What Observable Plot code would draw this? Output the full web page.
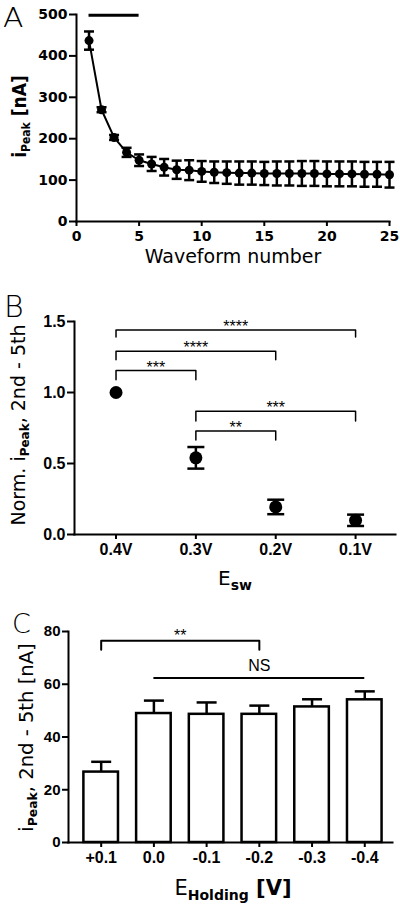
<!DOCTYPE html>
<html><head><meta charset="utf-8">
<script src="https://cdn.jsdelivr.net/npm/d3@7"></script>
<script src="https://cdn.jsdelivr.net/npm/@observablehq/plot@0.6"></script>
<style>
html,body{margin:0;padding:0;background:#fff;}
#wrap{position:relative;width:400px;height:907px;overflow:hidden;background:#fff;}
#wrap > svg{position:absolute;left:0;}
</style></head><body><div id="wrap"></div>
<script>
// ---------- Panel A ----------
const waveformNumber = [1,2,3,4,5,6,7,8,9,10,11,12,13,14,15,16,17,18,19,20,21,22,23,24,25];
const peakCurrent = [437,270,203,167,148,139,131,125,124,121,119,118,117,117,116,116,116,116,116,115,115,115,114,114,113];
const peakError   = [22,6,6,11,14,17,20,22,24,25,26,27,28,28,28,29,29,30,30,30,30,30,30,30,31];
const stimBarStart = 1, stimBarEnd = 5, stimBarLevel = 498;
const ticksAx = [0,5,10,15,20,25];
const ticksAy = [0,100,200,300,400,500];
const titleAx = "Waveform number";

// ---------- Panel B ----------
const eswLabels = ["0.4V","0.3V","0.2V","0.1V"];
const normPeak  = [1.0,0.54,0.194,0.10];
const normError = [0,0.076,0.051,0.04];
const bracketFrom  = ["0.4V","0.4V","0.4V","0.3V","0.3V"];
const bracketTo    = ["0.1V","0.2V","0.3V","0.1V","0.2V"];
const bracketTop   = [1.44,1.29,1.155,0.868,0.728];
const bracketFoot  = [1.39,1.23,1.09,0.80,0.665];
const bracketStars = ["****","****","***","***","**"];
const ticksBy = [0,0.5,1.0,1.5];

// ---------- Panel C ----------
const holdingLabels  = ["+0.1","0.0","-0.1","-0.2","-0.3","-0.4"];
const holdingCurrent = [26.7,48.9,48.6,48.6,51.4,54.1];
const holdingError   = [3.9,4.9,4.5,3.3,2.9,3.2];
const sigFrom = "+0.1", sigTo = "-0.2", sigTop = 76.5, sigFoot = 73.1, sigLabel = "**";
const nsFrom = "0.0", nsTo = "-0.4", nsLevel = 62.4, nsLabel = "NS";
const ticksCy = [0,20,40,60,80];

const capSymbol = {draw(ctx, size){ const r = Math.sqrt(size/Math.PI); ctx.moveTo(-r,0); ctx.lineTo(r,0); }};
const wrap = document.getElementById("wrap");

function addText(svg, o){
  const t = d3.select(svg).append("text")
    .attr("transform", `translate(${o.x},${o.y}) rotate(${o.rotate||0}) scale(${o.sx||1},1)`)
    .attr("text-anchor", o.anchor||"middle")
    .attr("font-family", o.family||"DejaVu Sans")
    .attr("font-size", o.size)
    .attr("font-weight", o.weight||"normal")
    .attr("fill","black");
  let cur = 0;
  for (const p of o.parts){
    const ts = t.append("tspan").text(p.text);
    const sh = p.shift||0;
    ts.attr("dy", sh - cur); cur = sh;
    if (p.size) ts.attr("font-size", p.size);
    if (p.weight) ts.attr("font-weight", p.weight);
  }
}

const fontA = {fontFamily:"DejaVu Sans", fontWeight:"bold", fontSize:14};
const fontBC = {fontFamily:"Liberation Sans", fontWeight:"bold", fontSize:16};

// ---------- Plot A ----------
const dataA = waveformNumber.map((x,i)=>({x, y:peakCurrent[i], lo:peakCurrent[i]-peakError[i], hi:peakCurrent[i]+peakError[i]}));
const capsA = dataA.flatMap(d=>[{x:d.x,y:d.lo},{x:d.x,y:d.hi}]);
const svgA = Plot.plot({
  width:400, height:290, marginTop:14, marginBottom:69, marginLeft:76, marginRight:11,
  style:"font-family:'DejaVu Sans';font-size:14px;font-weight:bold;color:#000;background:#fff;overflow:visible",
  x:{domain:[0,25]},
  y:{domain:[0,500]},
  marks:[
    Plot.axisX({ticks:ticksAx, tickSize:5, tickPadding:5, strokeWidth:2, label:null, ...fontA}),
    Plot.axisY({ticks:ticksAy, tickSize:7, tickPadding:2, strokeWidth:2, label:null, ...fontA}),
    Plot.frame({anchor:"left", strokeWidth:2}),
    Plot.frame({anchor:"bottom", strokeWidth:2}),
    Plot.ruleX(dataA,{x:"x", y1:"lo", y2:"hi", strokeWidth:2.5}),
    Plot.dot(capsA,{x:"x", y:"y", r:5, symbol:capSymbol, stroke:"black", fill:"none", strokeWidth:2.5}),
    Plot.line(dataA,{x:"x", y:"y", strokeWidth:2}),
    Plot.dot(dataA,{x:"x", y:"y", r:4.5, fill:"black"}),
    Plot.ruleY([stimBarLevel],{x1:stimBarStart, x2:stimBarEnd, strokeWidth:3})
  ]
});
svgA.style.top = "0px";
wrap.appendChild(svgA);
addText(svgA,{x:3, y:27, anchor:"start", size:26, weight:200, sx:1.15, parts:[{text:"A"}]});
addText(svgA,{x:26, y:116.5, rotate:-90, size:19, weight:"bold", sx:0.9, parts:[{text:"i"},{text:"Peak", size:12, shift:4},{text:" [nA]", shift:0}]});
addText(svgA,{x:233, y:263, size:19, parts:[{text:titleAx}]});

// ---------- Plot B ----------
const idxB = l => eswLabels.indexOf(l);
const dataB = eswLabels.map((l,i)=>({x:i, y:normPeak[i], lo:normPeak[i]-normError[i], hi:normPeak[i]+normError[i], e:normError[i]}));
const errB = dataB.filter(d=>d.e>0);
const capsB = errB.flatMap(d=>[{x:d.x,y:d.lo},{x:d.x,y:d.hi}]);
const bracketsB = bracketFrom.flatMap((f,i)=>[
  {k:i, x:idxB(f), y:bracketFoot[i]},
  {k:i, x:idxB(f), y:bracketTop[i]},
  {k:i, x:idxB(bracketTo[i]), y:bracketTop[i]},
  {k:i, x:idxB(bracketTo[i]), y:bracketFoot[i]}
]);
const starsB = bracketFrom.map((f,i)=>({x:(idxB(f)+idxB(bracketTo[i]))/2, y:bracketTop[i], t:bracketStars[i]}));
const svgB = Plot.plot({
  width:400, height:310, marginTop:31, marginBottom:66, marginLeft:74, marginRight:5,
  style:"font-family:'Liberation Sans';font-size:16px;font-weight:bold;color:#000;background:#fff;overflow:visible",
  x:{domain:[-0.52,3.5]},
  y:{domain:[0,1.5]},
  marks:[
    Plot.axisX({ticks:[0,1,2,3], tickFormat:i=>eswLabels[i], tickSize:5, tickPadding:4, strokeWidth:2, label:null, ...fontBC}),
    Plot.axisY({ticks:ticksBy, tickFormat:d3.format(".1f"), tickSize:7, tickPadding:2, strokeWidth:2, label:null, ...fontBC}),
    Plot.frame({anchor:"left", strokeWidth:2}),
    Plot.frame({anchor:"bottom", strokeWidth:2}),
    Plot.line(bracketsB,{x:"x", y:"y", z:"k", strokeWidth:1.5}),
    Plot.text(starsB,{x:"x", y:"y", text:"t", fontFamily:"Liberation Sans", fontWeight:"normal", fontSize:16, lineAnchor:"middle", dy:-3}),
    Plot.ruleX(errB,{x:"x", y1:"lo", y2:"hi", strokeWidth:2.5}),
    Plot.dot(capsB,{x:"x", y:"y", r:8.5, symbol:capSymbol, stroke:"black", fill:"none", strokeWidth:2.5}),
    Plot.dot(dataB,{x:"x", y:"y", r:6.5, fill:"black"})
  ]
});
svgB.style.top = "290px";
wrap.appendChild(svgB);
addText(svgB,{x:4, y:27, anchor:"start", size:30, weight:200, parts:[{text:"B"}]});
addText(svgB,{x:25, y:135, rotate:-90, sx:1.0, size:19, parts:[{text:"Norm. i"},{text:"Peak", size:12, weight:"bold", shift:4},{text:", 2nd - 5th", shift:0}]});
addText(svgB,{x:235, y:295, size:20, parts:[{text:"E"},{text:"sw", size:14, weight:"bold", shift:5}]});

// ---------- Plot C ----------
const idxC = l => holdingLabels.indexOf(l);
const halfBar = 0.328;
const dataC = holdingLabels.map((l,i)=>({x:i, y:holdingCurrent[i], hi:holdingCurrent[i]+holdingError[i]}));
const bracketC = [
  {x:idxC(sigFrom), y:sigFoot},{x:idxC(sigFrom), y:sigTop},{x:idxC(sigTo), y:sigTop},{x:idxC(sigTo), y:sigFoot}
];
const labelsC = [
  {x:(idxC(sigFrom)+idxC(sigTo))/2, y:sigTop, t:sigLabel},
];
const svgC = Plot.plot({
  width:400, height:307, marginTop:31, marginBottom:65, marginLeft:68, marginRight:8,
  style:"font-family:'Liberation Sans';font-size:16px;font-weight:bold;color:#000;background:#fff;overflow:visible",
  x:{domain:[-0.62,5.526]},
  y:{domain:[0,80]},
  marks:[
    Plot.axisX({ticks:[0,1,2,3,4,5], tickFormat:i=>holdingLabels[i], tickSize:5, tickPadding:4, strokeWidth:2, label:null, ...fontBC}),
    Plot.axisY({ticks:ticksCy, tickSize:6, tickPadding:2, strokeWidth:2, label:null, ...fontBC, fontSize:15}),
    Plot.ruleX(dataC,{x:"x", y1:"y", y2:"hi", strokeWidth:2.5}),
    Plot.dot(dataC,{x:"x", y:"hi", r:10, symbol:capSymbol, stroke:"black", fill:"none", strokeWidth:2.5}),
    Plot.rectY(dataC,{x1:d=>d.x-halfBar, x2:d=>d.x+halfBar, y1:0, y2:"y", fill:"white", stroke:"black", strokeWidth:2.5}),
    Plot.frame({anchor:"left", strokeWidth:2}),
    Plot.frame({anchor:"bottom", strokeWidth:2}),
    Plot.line(bracketC,{x:"x", y:"y", strokeWidth:2}),
    Plot.text(labelsC,{x:"x", y:"y", text:"t", fontFamily:"Liberation Sans", fontWeight:"normal", fontSize:16, lineAnchor:"middle", dy:-4.5}),
    Plot.ruleY([nsLevel],{x1:idxC(nsFrom), x2:idxC(nsTo), strokeWidth:2}),
    Plot.text([nsLabel],{x:(idxC(nsFrom)+idxC(nsTo))/2, y:nsLevel, text:d=>d, fontFamily:"Liberation Sans", fontWeight:"normal", fontSize:16, lineAnchor:"middle", dy:-12})
  ]
});
svgC.style.top = "600px";
wrap.appendChild(svgC);
addText(svgC,{x:12, y:33, anchor:"start", size:27, weight:200, parts:[{text:"C"}]});
addText(svgC,{x:33, y:137.5, rotate:-90, sx:1.03, size:19, parts:[{text:"i"},{text:"Peak", size:12, weight:"bold", shift:4},{text:", 2nd - 5th [nA]", shift:0}]});
addText(svgC,{x:233, y:295, size:21, parts:[{text:"E"},{text:"Holding", size:14, weight:"bold", shift:5},{text:" [V]", size:21, weight:"bold", shift:0}]});
</script></body></html>
